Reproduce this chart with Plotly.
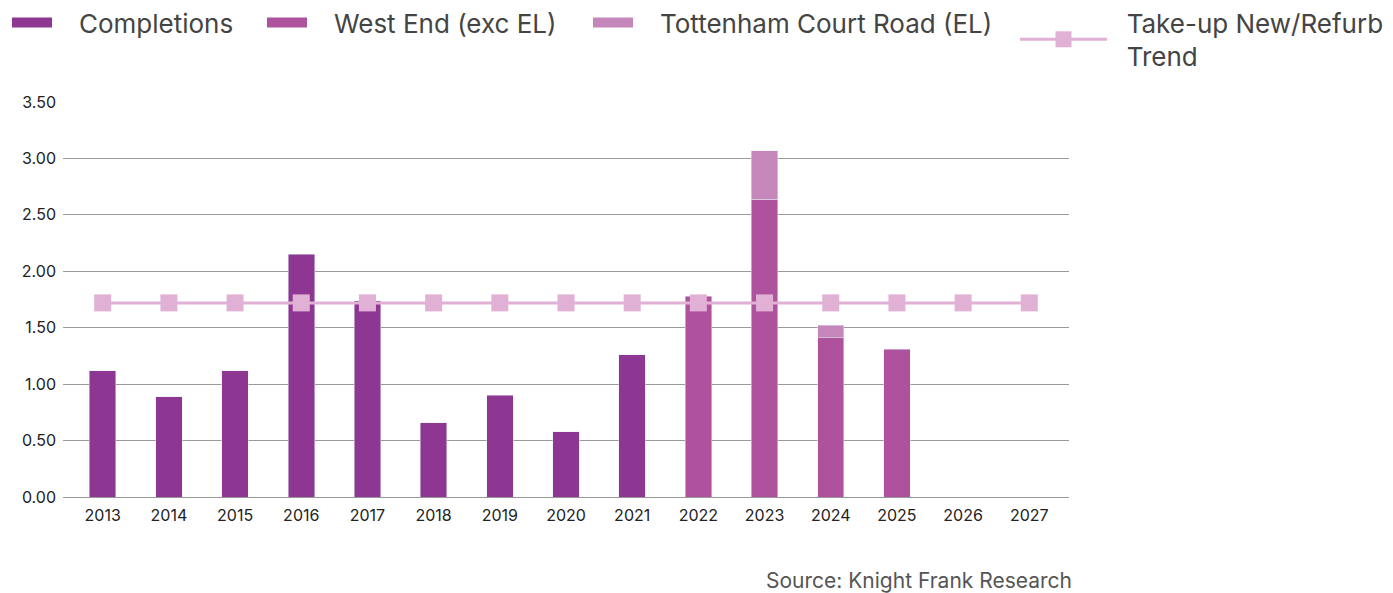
import plotly.graph_objects as go

years = [str(y) for y in range(2013, 2028)]
completions = [1.12, 0.89, 1.12, 2.15, 1.74, 0.66, 0.90, 0.58, 1.26, None, None, None, None, None, None]
west_end = [None, None, None, None, None, None, None, None, None, 1.78, 2.64, 1.41, 1.31, None, None]
tcr = [None, None, None, None, None, None, None, None, None, None, 0.43, 0.11, None, None, None]
trend = [1.72] * 15
y_ticks = [0, 0.5, 1.0, 1.5, 2.0, 2.5, 3.0, 3.5]

FONT = "Inter, Roboto, sans-serif"
OFF = 8  # page body offset
W, H = 1393 - OFF, 593 - OFF
L, R, T, B = 63 - OFF, 324, 102 - OFF, 96
PW, PH = W - L - R, H - T - B
NB = "\u00a0"


def px_x(px):
    return (px - OFF - L) / PW


def px_y(py):
    return (H - B - (py - OFF)) / PH


bar_series = [
    ("Completions", completions, "#8E3792", "legend"),
    ("West End (exc EL)", west_end, "#AF529E", "legend2"),
    ("Tottenham Court Road (EL)", tcr, "#C587BA", "legend3"),
]

fig = go.Figure()
for name, vals, col, leg in bar_series:
    fig.add_trace(go.Bar(x=years, y=vals, name=name, marker_color=col, legendgroup=name,
                         showlegend=False, legend=leg))
for name, vals, col, leg in bar_series:
    # legend swatch (wide rectangle) linked to the bar trace via legendgroup
    fig.add_trace(go.Scatter(x=[None], y=[None], name=NB * 3 + name, mode="lines", legendgroup=name,
                             line=dict(color=col, width=16), legend=leg, hoverinfo="skip"))
fig.add_trace(go.Scatter(x=years, y=trend, name=NB * 2 + "Take-up New/Refurb<br>" + NB * 2 + "Trend",
                         mode="lines+markers", line=dict(color="#E1B1D5", width=3),
                         marker=dict(symbol="square", size=17, color="#E1B1D5"), legend="legend4"))

leg_common = dict(orientation="h", xanchor="left", yanchor="top",
                  font=dict(size=26, color="#444", family=FONT), bgcolor="rgba(0,0,0,0)")
legend_x = [7, 262, 588, 1015]
legend_top = -1

fig.update_layout(
    width=W, height=H, showlegend=True,
    barmode="stack", bargap=0.6,
    plot_bgcolor="white", paper_bgcolor="white",
    margin=dict(l=L, r=R, t=T, b=B, autoexpand=False),
    font=dict(family=FONT, color="#222"),
    legend=dict(x=px_x(legend_x[0]), y=px_y(legend_top), itemwidth=40, **leg_common),
    legend2=dict(x=px_x(legend_x[1]), y=px_y(legend_top), itemwidth=40, **leg_common),
    legend3=dict(x=px_x(legend_x[2]), y=px_y(legend_top), itemwidth=40, **leg_common),
    legend4=dict(x=px_x(legend_x[3]), y=px_y(legend_top), itemwidth=87, **leg_common),
    xaxis=dict(type="category", range=[-0.6, 14.6], showgrid=False, showline=True, linecolor="#999",
               linewidth=1, tickfont=dict(size=16, color="#222"), ticks="", ticklabelstandoff=4),
    yaxis=dict(range=[0, 3.5], tickvals=y_ticks, tickformat=".2f", showgrid=True, gridcolor="#9a9a9a",
               gridwidth=1, zeroline=False, tickfont=dict(size=16, color="#222"), automargin=False,
               ticklabelstandoff=6),
    annotations=[dict(text="Source: Knight Frank Research", xref="paper", yref="paper",
                      x=px_x(1074), y=px_y(580), xanchor="right", yanchor="middle", showarrow=False,
                      font=dict(size=21, color="#555", family=FONT))],
)
fig.write_html("out.html")
